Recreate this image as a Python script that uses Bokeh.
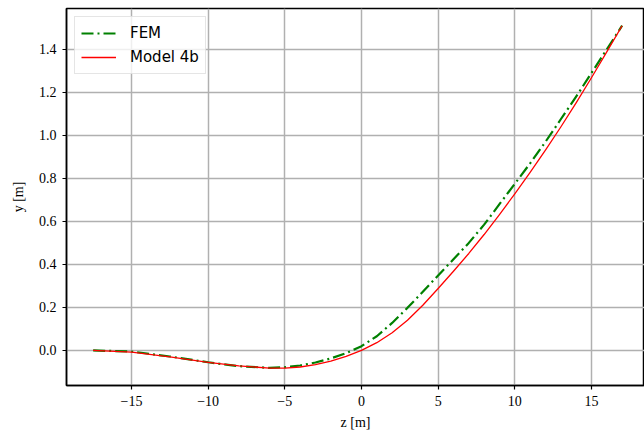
from bokeh.plotting import figure
from bokeh.models import Range1d, FixedTicker, Legend, LegendItem
from bokeh.embed import file_html
from bokeh.resources import INLINE

# Data
z_vals = [-17.5, -15, -12.5, -10, -8, -6, -5, -4, -3, -2, -1, 0, 1, 2, 3, 4, 5,
          6, 7, 8, 9, 10, 11, 12, 13, 14, 15, 16, 17]
fem_y = [0.0, -0.005, -0.028, -0.055, -0.073, -0.081, -0.078, -0.070, -0.056,
         -0.037, -0.013, 0.020, 0.066, 0.128, 0.198, 0.273, 0.349, 0.424, 0.500,
         0.585, 0.680, 0.775, 0.870, 0.970, 1.075, 1.180, 1.290, 1.400, 1.51]
model_y = [0.0, -0.008, -0.030, -0.055, -0.072, -0.082, -0.082, -0.077, -0.066,
           -0.050, -0.028, 0.0, 0.036, 0.082, 0.140, 0.210, 0.288, 0.368, 0.451,
           0.539, 0.632, 0.728, 0.828, 0.932, 1.039, 1.151, 1.268, 1.388, 1.51]

x_ticks = [-15, -10, -5, 0, 5, 10, 15]
x_tick_labels = {-15: "\u221215", -10: "\u221210", -5: "\u22125", 0: "0",
                 5: "5", 10: "10", 15: "15"}
y_ticks = [0.0, 0.2, 0.4, 0.6, 0.8, 1.0, 1.2, 1.4]
y_tick_labels = {0.0: "0.0", 0.2: "0.2", 0.4: "0.4", 0.6: "0.6", 0.8: "0.8",
                 1.0: "1.0", 1.2: "1.2", 1.4: "1.4"}

p = figure(width=644, height=438, output_backend="svg", toolbar_location=None,
           x_range=Range1d(-19.24, 18.46), y_range=Range1d(-0.163, 1.59),
           min_border_left=66, min_border_right=0, min_border_top=8,
           min_border_bottom=53)

p.background_fill_color = "white"
p.border_fill_color = "white"
p.outline_line_color = "black"
p.outline_line_width = 1.5

serif = "Liberation Serif"
for ax in (p.xaxis[0], p.yaxis[0]):
    ax.axis_line_width = 1.5
    ax.axis_line_color = "black"
    ax.major_tick_line_width = 1.2
    ax.major_tick_in = 0
    ax.major_tick_out = 4
    ax.minor_tick_line_color = None
    ax.major_label_text_font = serif
    ax.major_label_text_font_size = "14px"
    ax.major_label_text_color = "black"
    ax.axis_label_text_font = serif
    ax.axis_label_text_font_size = "14px"
    ax.axis_label_text_font_style = "normal"
    ax.axis_label_text_color = "black"

p.xaxis[0].ticker = FixedTicker(ticks=x_ticks)
p.xaxis[0].major_label_overrides = x_tick_labels
p.yaxis[0].ticker = FixedTicker(ticks=y_ticks)
p.yaxis[0].major_label_overrides = y_tick_labels
p.xaxis[0].axis_label = "z [m]"
p.yaxis[0].axis_label = "y [m]"
p.xaxis[0].axis_label_standoff = 6
p.yaxis[0].axis_label_standoff = 10
p.xaxis[0].major_label_standoff = 6
p.yaxis[0].major_label_standoff = 6

p.xgrid.ticker = FixedTicker(ticks=x_ticks)
p.ygrid.ticker = FixedTicker(ticks=y_ticks)
for g in (p.xgrid[0], p.ygrid[0]):
    g.grid_line_color = "#b0b0b0"
    g.grid_line_width = 1.5

r_fem = p.line(z_vals, fem_y, line_color="green", line_width=2.2,
               line_dash="12 4 2 4", line_join="round")
r_model = p.line(z_vals, model_y, line_color="red", line_width=1.3,
                 line_join="round")

legend = Legend(items=[LegendItem(label="FEM", renderers=[r_fem]),
                       LegendItem(label="Model 4b", renderers=[r_model])],
                location="top_left")
legend.margin = 8
legend.padding = 6
legend.spacing = 4
legend.glyph_width = 35
legend.glyph_height = 20
legend.label_height = 20
legend.label_standoff = 14
legend.label_text_font = "DejaVu Sans"
legend.label_text_font_size = "15px"
legend.label_text_color = "black"
legend.border_line_color = "#cccccc"
legend.border_line_width = 1
legend.background_fill_color = "white"
legend.background_fill_alpha = 0.8
p.add_layout(legend, "center")

open("out.html", "w").write(file_html(p, INLINE))
